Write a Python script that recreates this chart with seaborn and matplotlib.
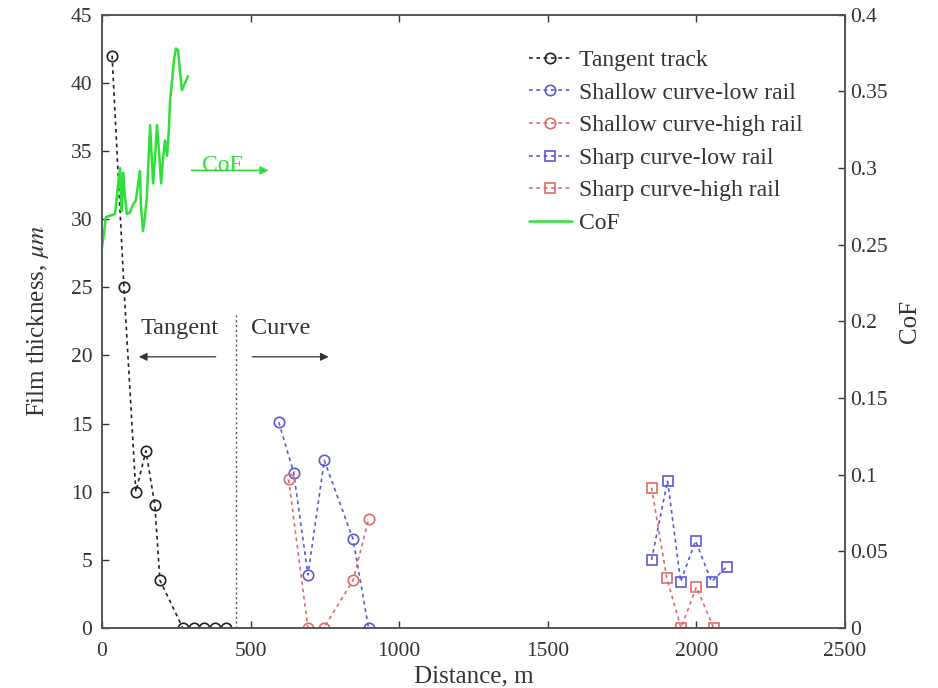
"""
Film thickness along the track (left axis) with the CoF trace (right axis).
"""
import matplotlib as mpl
import matplotlib.pyplot as plt
from matplotlib.ticker import FuncFormatter, MultipleLocator
import seaborn as sns

# tangent track
TANGENT_X = [34, 74, 114, 148, 178, 195, 272, 308, 344, 380, 417]
TANGENT_Y = [42.0, 25.0, 10.0, 13.0, 9.0, 3.5, 0.0, 0.0, 0.0, 0.0, 0.0]

# shallow curve
SHALLOW_LOW_X = [595, 645, 693, 748, 845, 897]
SHALLOW_LOW_Y = [15.1, 11.4, 3.9, 12.3, 6.5, 0.0]
SHALLOW_HIGH_X = [628, 693, 746, 845, 897]
SHALLOW_HIGH_Y = [10.9, 0.0, 0.0, 3.5, 8.0]

# sharp curve
SHARP_LOW_X = [1849, 1903, 1947, 1997, 2051, 2102]
SHARP_LOW_Y = [5.0, 10.8, 3.4, 6.4, 3.4, 4.5]
SHARP_HIGH_X = [1849, 1900, 1948, 2000, 2058]
SHARP_HIGH_Y = [10.3, 3.7, 0.0, 3.0, 0.0]

# coefficient of friction (right axis)
COF_X = [0, 7, 13, 27, 44, 54, 61, 64, 67, 71, 77, 84, 94, 104, 114, 121, 128,
         131, 138, 145, 151, 158, 162, 168, 172, 178, 185, 192, 199, 205, 212,
         219, 225, 229, 236, 242, 249, 256, 262, 269, 276, 283, 289]
COF_Y = [0.248, 0.258, 0.268, 0.269, 0.270, 0.289, 0.300, 0.279, 0.272, 0.297,
         0.282, 0.270, 0.271, 0.276, 0.279, 0.289, 0.298, 0.276, 0.259, 0.269,
         0.281, 0.311, 0.328, 0.305, 0.290, 0.305, 0.328, 0.311, 0.290, 0.305,
         0.318, 0.308, 0.325, 0.344, 0.357, 0.370, 0.378, 0.377, 0.364, 0.351,
         0.354, 0.357, 0.360]

BLUE = "#5a5ad6"
RED = "#e06a6a"
GREEN = "#2fe03a"
DASH = (0, (2.2, 2.2))


def setup_style():
    sns.set_theme(style="white")
    mpl.rcParams.update({
        "font.family": ["Liberation Serif", "DejaVu Serif"],
        "mathtext.fontset": "stix",
        "font.size": 15,
        "axes.labelsize": 18,
        "xtick.labelsize": 15.5,
        "ytick.labelsize": 15.5,
        "legend.fontsize": 17,
        "axes.edgecolor": "#555555",
        "axes.linewidth": 1.2,
        "text.color": "#333333",
        "axes.labelcolor": "#333333",
        "xtick.color": "#333333",
        "ytick.color": "#333333",
    })


def series(ax, x, y, color, marker, label):
    sns.lineplot(x=x, y=y, ax=ax, color=color, linestyle=DASH, linewidth=1.2,
                 marker=marker, markersize=7.5, markerfacecolor="none",
                 markeredgecolor=color, markeredgewidth=1.2, label=label,
                 sort=False, estimator=None)


def main():
    setup_style()
    fig = plt.figure(figsize=(9.38, 6.88), dpi=100)
    ax = fig.add_axes([0.1087, 0.0872, 0.7922, 0.8913])

    series(ax, TANGENT_X, TANGENT_Y, "#222222", "o", "Tangent track")
    series(ax, SHALLOW_LOW_X, SHALLOW_LOW_Y, BLUE, "o", "Shallow curve-low rail")
    series(ax, SHALLOW_HIGH_X, SHALLOW_HIGH_Y, RED, "o", "Shallow curve-high rail")
    series(ax, SHARP_LOW_X, SHARP_LOW_Y, BLUE, "s", "Sharp curve-low rail")
    series(ax, SHARP_HIGH_X, SHARP_HIGH_Y, RED, "s", "Sharp curve-high rail")

    ax.set_xlim(0, 2500)
    ax.set_ylim(0, 45)
    ax.xaxis.set_major_locator(MultipleLocator(500))
    ax.yaxis.set_major_locator(MultipleLocator(5))
    ax.set_xlabel("Distance, m", labelpad=3)
    ax.set_ylabel(r"Film thickness, $\mu m$", labelpad=14)
    ax.tick_params(direction="in", length=5, width=1.0, top=True, bottom=True, left=True, right=False)
    ax.tick_params(axis="x", pad=10)
    ax.tick_params(axis="y", pad=7)

    # tangent / curve divider with arrows
    ax.plot([450, 450], [0, 23], linestyle=(0, (1.5, 2)), color="#555555", linewidth=1.0)
    ax.text(262, 22.0, "Tangent", ha="center", va="center", fontsize=17.5)
    ax.text(600, 22.0, "Curve", ha="center", va="center", fontsize=17.5)
    ax.annotate("", xy=(115, 19.9), xytext=(392, 19.9),
                arrowprops=dict(arrowstyle="-|>", color="#333333", lw=0.9, mutation_scale=12))
    ax.annotate("", xy=(772, 19.9), xytext=(496, 19.9),
                arrowprops=dict(arrowstyle="-|>", color="#333333", lw=0.9, mutation_scale=12))

    ax2 = ax.twinx()
    sns.lineplot(x=COF_X, y=COF_Y, ax=ax2, color=GREEN, linewidth=1.8, label="CoF",
                 sort=False, estimator=None)
    ax2.set_ylim(0, 0.4)
    ax2.yaxis.set_major_locator(MultipleLocator(0.05))
    ax2.yaxis.set_major_formatter(FuncFormatter(lambda v, _: f"{v:g}"))
    ax2.set_ylabel("CoF", labelpad=8)
    ax2.tick_params(direction="in", length=5, width=1.0, right=True)
    ax2.text(405, 0.302, "CoF", color=GREEN, ha="center", va="center", fontsize=17)
    ax2.annotate("", xy=(570, 0.2985), xytext=(292, 0.2985),
                 arrowprops=dict(arrowstyle="-|>", color=GREEN, lw=1.2, mutation_scale=12))

    h1, l1 = ax.get_legend_handles_labels()
    h2, l2 = ax2.get_legend_handles_labels()
    if ax.get_legend():
        ax.get_legend().remove()
    if ax2.get_legend():
        ax2.get_legend().remove()
    ax2.legend(h1 + h2, l1 + l2, loc="upper left", bbox_to_anchor=(0.562, 0.959),
               borderaxespad=0.0, frameon=False, handlelength=1.8, handletextpad=0.3,
               labelspacing=0.47)

    fig.savefig("out.png", dpi=100, facecolor="white")
    plt.close(fig)


if __name__ == "__main__":
    main()
